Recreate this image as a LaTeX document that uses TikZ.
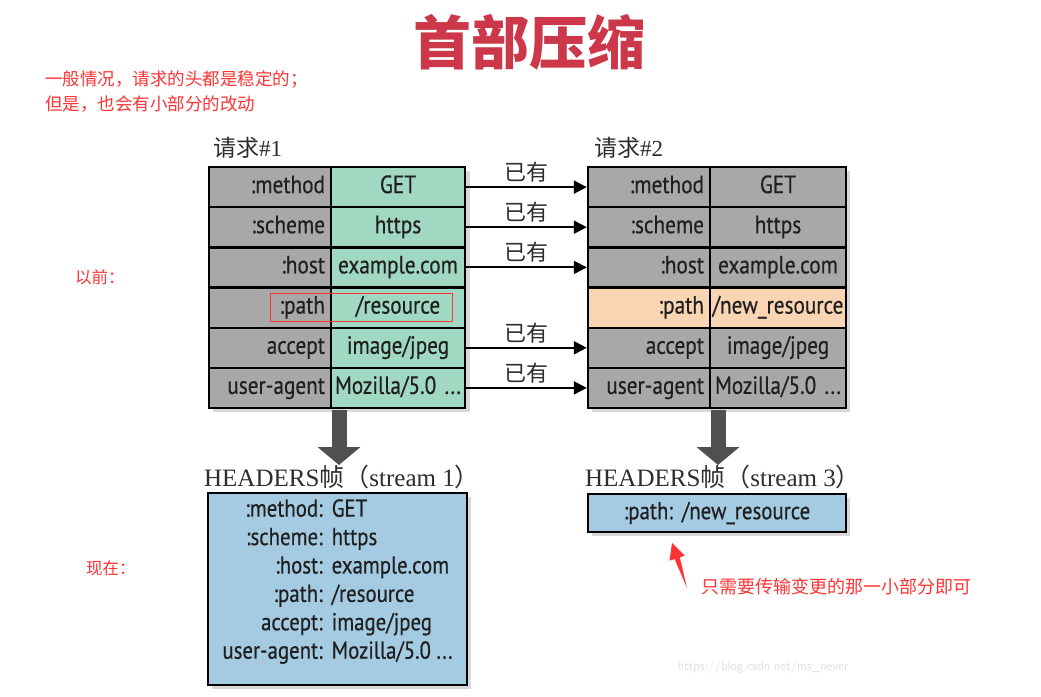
\documentclass[tikz,border=0pt]{standalone}
\usepackage{fontspec}
\usetikzlibrary{arrows.meta,shadows}
\newfontfamily\cjk{Noto Sans CJK SC}
\newfontfamily\tf{PT Sans}[FakeStretch=0.85,FakeBold=0.4]
\newfontfamily\serifl{Liberation Serif}
\definecolor{keygray}{RGB}{168,168,168}
\definecolor{valgreen}{RGB}{160,216,193}
\definecolor{peach}{RGB}{250,213,180}
\definecolor{boxblue}{RGB}{164,203,226}
\definecolor{titlered}{RGB}{204,56,74}
\definecolor{notered}{RGB}{255,51,51}
\definecolor{arrgray}{RGB}{80,80,80}
\definecolor{labelgray}{RGB}{45,45,45}
\tikzset{
  cellbase/.style={draw=black, line width=2.4pt, minimum height=40.2pt, inner xsep=6pt, inner ysep=0pt,
    font=\tf\fontsize{25}{28}\selectfont, text height=17pt, text depth=5pt, text=black!88},
  keycell/.style={cellbase, fill=keygray, text width=110pt, align=right},
  valcell/.style={cellbase, fill=#1, inner xsep=1pt, align=center},
  tabshadow/.style={fill=white, drop shadow={opacity=0.3, shadow xshift=4pt, shadow yshift=-4pt}},
  hasarr/.style={line width=2pt, -{Triangle[length=13pt,width=13pt]}},
  haslabel/.style={font=\cjk\fontsize{22}{24}\selectfont, text=labelgray, inner sep=1pt},
  bigarr/.style={line width=15pt, draw=arrgray, -{Triangle[length=18pt,width=42pt]}},
  bluebox/.style={draw=black, line width=2.8pt, fill=boxblue, inner sep=0pt,
    drop shadow={opacity=0.3, shadow xshift=4pt, shadow yshift=-4pt}},
  hdrlabel/.style={font=\fontsize{25}{27}\selectfont, text=labelgray, inner sep=0pt},
  reqlabel/.style={font=\fontsize{23}{25}\selectfont, text=labelgray, inner sep=0pt},
  redtext/.style={font=\cjk\fontsize{17.5}{20}\selectfont, text=notered, inner sep=0pt},
}
\begin{document}
\begin{tikzpicture}[x=1pt,y=-1pt]
\useasboundingbox[fill=white] (0,0) rectangle (1041,696);

% title and notes
\node[font=\cjk\bfseries\fontsize{58}{62}\selectfont, text=titlered, inner sep=0pt] (title) at (529,42) {首部压缩};
\node[redtext, anchor=west] (n1) at (45,79) {一般情况，请求的头都是稳定的；};
\node[redtext, anchor=west] (n2) at (45,104) {但是，也会有小部分的改动};
\node[redtext, font=\cjk\fontsize{16.5}{18}\selectfont, anchor=west] (before) at (75,277) {以前：};
\node[redtext, font=\cjk\fontsize{16.5}{18}\selectfont, anchor=west] (now) at (86,568) {现在：};

% request labels
\node[reqlabel, anchor=west] (req1) at (213,148) {{\cjk 请求}{\serifl\#1}};
\node[reqlabel, anchor=west] (req2) at (594,148) {{\cjk 请求}{\serifl\#2}};

% table backgrounds with shadows
\node[tabshadow, minimum width=257pt, minimum height=241pt] (Ltab) at (337,287.5) {};
\node[tabshadow, minimum width=258pt, minimum height=241pt] (Rtab) at (717,287.5) {};

% left table
\node[keycell] (Lk1) at (270,187.1) {:method};
\node[keycell] (Lk2) at (270,227.2) {:scheme};
\node[keycell] (Lk3) at (270,267.4) {:host};
\node[keycell] (Lk4) at (270,307.6) {:path};
\node[keycell] (Lk5) at (270,347.8) {accept};
\node[keycell] (Lk6) at (270,387.9) {user-agent};
\node[valcell=valgreen, text width=132pt] (Lv1) at (398,187.1) {GET};
\node[valcell=valgreen, text width=132pt] (Lv2) at (398,227.2) {https};
\node[valcell=valgreen, text width=132pt] (Lv3) at (398,267.4) {example.com};
\node[valcell=valgreen, text width=132pt] (Lv4) at (398,307.6) {/resource};
\node[valcell=valgreen, text width=132pt] (Lv5) at (398,347.8) {image/jpeg};
\node[valcell=valgreen, text width=132pt] (Lv6) at (398,387.9) {\mbox{Mozilla/5.0 ...}};

% right table
\node[keycell] (Rk1) at (649,187.1) {:method};
\node[keycell] (Rk2) at (649,227.2) {:scheme};
\node[keycell] (Rk3) at (649,267.4) {:host};
\node[keycell, fill=peach] (Rk4) at (649,307.6) {:path};
\node[keycell] (Rk5) at (649,347.8) {accept};
\node[keycell] (Rk6) at (649,387.9) {user-agent};
\node[valcell=keygray, text width=134pt] (Rv1) at (778,187.1) {GET};
\node[valcell=keygray, text width=134pt] (Rv2) at (778,227.2) {https};
\node[valcell=keygray, text width=134pt] (Rv3) at (778,267.4) {example.com};
\node[valcell=peach, text width=134pt] (Rv4) at (778,307.6) {/new\_resource};
\node[valcell=keygray, text width=134pt] (Rv5) at (778,347.8) {image/jpeg};
\node[valcell=keygray, text width=134pt] (Rv6) at (778,387.9) {\mbox{Mozilla/5.0 ...}};

% highlight rectangle
\node[draw=notered, line width=0.8pt, minimum width=182pt, minimum height=28pt, inner sep=0pt] (hl) at (361,307) {};

% "已有" arrows
\draw[hasarr] (Lv1.east) -- node[haslabel, above=3pt] {已有} (Rk1.west);
\draw[hasarr] (Lv2.east) -- node[haslabel, above=3pt] {已有} (Rk2.west);
\draw[hasarr] (Lv3.east) -- node[haslabel, above=3pt] {已有} (Rk3.west);
\draw[hasarr] (Lv5.east) -- node[haslabel, above=3pt] {已有} (Rk5.west);
\draw[hasarr] (Lv6.east) -- node[haslabel, above=3pt] {已有} (Rk6.west);

% big down arrows
\coordinate (d1a) at (339,410);
\coordinate (d1b) at (339,465);
\coordinate (d2a) at (718,410);
\coordinate (d2b) at (718,465);
\draw[bigarr] (d1a) -- (d1b);
\draw[bigarr] (d2a) -- (d2b);

% HEADERS labels
\node[hdrlabel] (h1) at (342,477) {{\serifl HEADERS}{\cjk 帧（}{\serifl stream 1}{\cjk ）}};
\node[hdrlabel] (h2) at (723,477) {{\serifl HEADERS}{\cjk 帧（}{\serifl stream 3}{\cjk ）}};

% blue boxes
\node[bluebox, minimum width=259pt, minimum height=192pt] (B1) at (337.5,589) {};
\node[font=\tf\fontsize{24.5}{28.4}\selectfont, text=black!88, inner sep=0pt] (B1t) at ([yshift=7pt]B1.center)
 {\begin{tabular}{@{}r@{\hspace{9pt}}l@{}}
 :method: & GET\\
 :scheme: & https\\
 :host: & example.com\\
 :path: & /resource\\
 accept: & image/jpeg\\
 user-agent: & Mozilla/5.0 ...
 \end{tabular}};
\node[bluebox, minimum width=258pt, minimum height=38pt, font=\tf\fontsize{24.5}{27}\selectfont, text=black!88] (B2) at (717,513) {:path:\hspace{9pt}/new\_resource};

% red pointer arrow and note
\coordinate (pt) at (672,543);
\coordinate (pb) at (687,588);
\fill[notered] (pt) -- (684.7,555.7) -- (679.8,557.3) -- (pb) -- (674.6,559.0) -- (669.5,560.7) -- cycle;
\node[redtext, font=\cjk\fontsize{18}{20}\selectfont] (note) at (836,587) {只需要传输变更的那一小部分即可};

% watermark
\node[font=\fontsize{13}{15}\selectfont\sffamily, text=black!12, inner sep=0pt] (wm) at (763,667) {https://blog.csdn.net/ms\_never};
\end{tikzpicture}
\end{document}
